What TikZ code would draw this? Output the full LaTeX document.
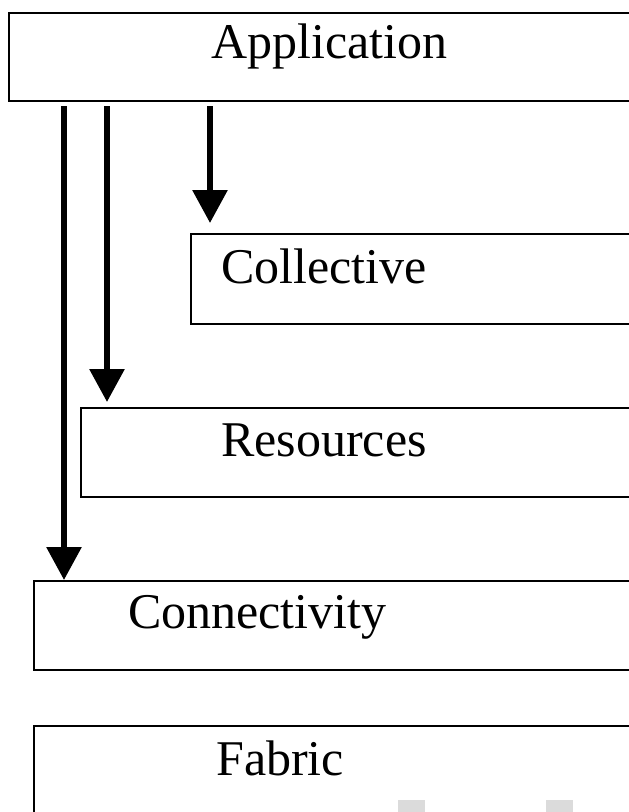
\documentclass[tikz,border=0pt]{standalone}
\usepackage{fontspec}
\setmainfont{Liberation Serif}
\usetikzlibrary{arrows.meta}
\begin{document}
\begin{tikzpicture}[x=1pt,y=-1pt,
  layer/.style={draw,line width=2pt,rectangle,anchor=north west,minimum height=89pt,inner sep=0pt},
  lbl/.style={anchor=base west,inner sep=0pt,font=\fontsize{50}{60}\selectfont},
  arr/.style={line width=6pt,-{Triangle[width=34pt,length=33pt]}}]
\useasboundingbox (0,0) rectangle (629,812);
\clip (0,0) rectangle (629,812);
\node[layer,minimum width=646pt,minimum height=88pt] (app) at (8,12) {};
\node[layer,minimum width=480pt,minimum height=90pt] (coll) at (190,233) {};
\node[layer,minimum width=590pt] (res) at (80,407) {};
\node[layer,minimum width=637pt] (conn) at (33,580) {};
\node[layer,minimum width=637pt,minimum height=100pt] (fab) at (33,725) {};
\node[lbl] (appt) at (211,58) {Application};
\node[lbl] (collt) at (221,283) {Collective};
\node[lbl] (rest) at (221,456) {Resources};
\node[lbl] (connt) at (128,628) {Connectivity};
\node[lbl] (fabt) at (216,775) {Fabric};
\coordinate (xc) at (210,0);
\coordinate (xr) at (107,0);
\coordinate (xn) at (64,0);
\draw[arr,shorten <=4pt,shorten >=10pt] (app.south -| xc) -- (coll.north -| xc);
\draw[arr,shorten <=4pt,shorten >=5pt] (app.south -| xr) -- (res.north -| xr);
\draw[arr,shorten <=4pt] (app.south -| xn) -- (conn.north -| xn);
\fill[black!14] (398,800) rectangle (425,812);
\fill[black!14] (546,800) rectangle (573,812);
\end{tikzpicture}
\end{document}
